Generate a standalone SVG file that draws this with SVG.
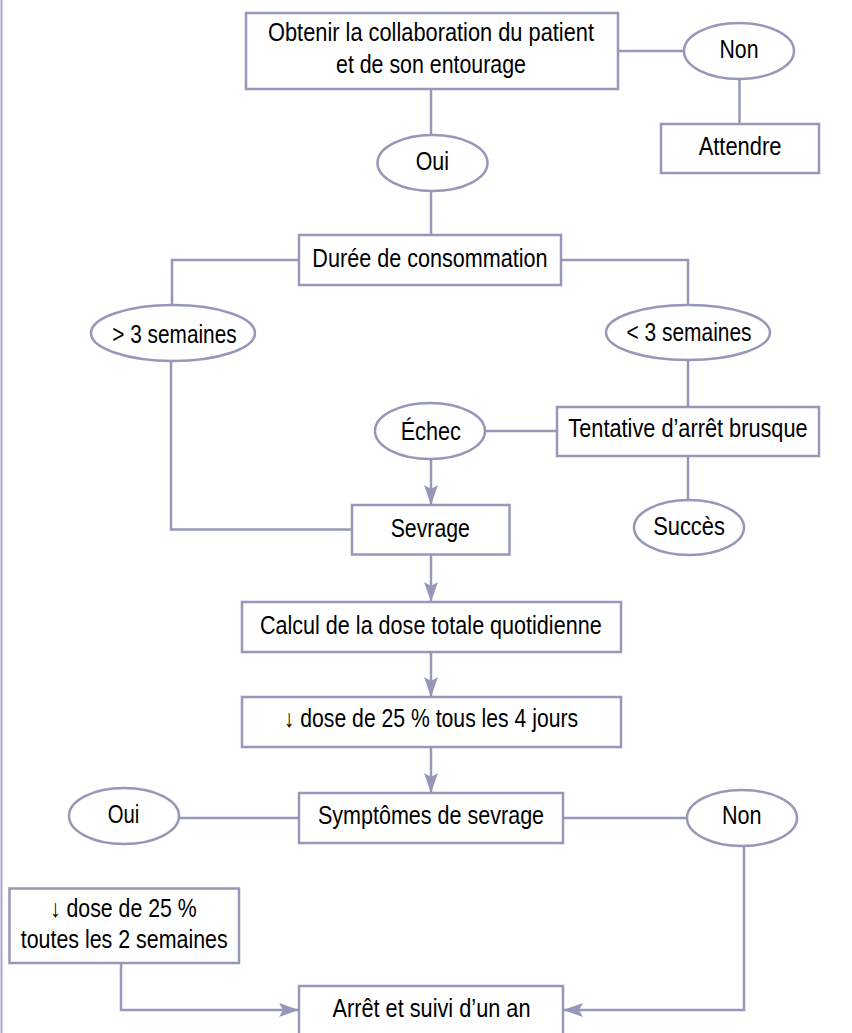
<svg xmlns="http://www.w3.org/2000/svg" width="852" height="1033" viewBox="0 0 852 1033">
<style>
.box{fill:#fff;stroke:#9598b8;stroke-width:2.5}
.ell{fill:#fff;stroke:#9598b8;stroke-width:2.5}
.con{fill:none;stroke:#9598b8;stroke-width:2.5}
.arr{marker-end:url(#ah)}
text{font-family:"Liberation Sans","DejaVu Sans",sans-serif;font-size:25px;fill:#000;text-anchor:middle}
</style>
<defs>
<marker id="ah" markerUnits="userSpaceOnUse" markerWidth="20" markerHeight="14" refX="20" refY="7" orient="auto" viewBox="0 0 20 14">
<path d="M0,0 L20,7 L0,14 L4,7 z" fill="#9598b8"/>
</marker>
</defs>
<rect width="852" height="1033" fill="#fff"/>
<line x1="1.5" y1="0" x2="1.5" y2="1033" stroke="#a3a5c9" stroke-width="2"/>
<g id="connectors">
<line class="con" x1="618" y1="51" x2="684" y2="51"/>
<line class="con" x1="739.5" y1="79" x2="739.5" y2="124"/>
<line class="con" x1="431" y1="89" x2="431" y2="135"/>
<line class="con" x1="431" y1="191" x2="431" y2="235"/>
<path class="con" d="M299,260 H172 V305"/>
<path class="con" d="M561,260 H688 V305"/>
<line class="con" x1="688" y1="360" x2="688" y2="407"/>
<line class="con" x1="557" y1="431" x2="485" y2="431"/>
<line class="con" x1="688" y1="456" x2="688" y2="500"/>
<line class="con arr" x1="431" y1="459" x2="431" y2="505"/>
<path class="con" d="M171,361 V529.5 H352"/>
<line class="con arr" x1="431" y1="554.5" x2="431" y2="602"/>
<line class="con arr" x1="431" y1="652" x2="431" y2="697"/>
<line class="con arr" x1="431" y1="747" x2="431" y2="793"/>
<line class="con" x1="299" y1="818" x2="179" y2="818"/>
<line class="con" x1="563" y1="818" x2="687" y2="818"/>
<path class="con arr" d="M121,963 V1010 H299"/>
<path class="con arr" d="M744,846 V1010 H563"/>
</g>
<g id="n-collab">
<rect class="box" x="246" y="13" width="372" height="76"/>
<text x="431" y="41" textLength="326" lengthAdjust="spacingAndGlyphs">Obtenir la collaboration du patient</text>
<text x="431" y="72.7" textLength="190" lengthAdjust="spacingAndGlyphs">et de son entourage</text>
</g>
<g id="n-non1">
<ellipse class="ell" cx="739" cy="51" rx="55" ry="28"/>
<text x="739" y="58.3" textLength="39" lengthAdjust="spacingAndGlyphs">Non</text>
</g>
<g id="n-attendre">
<rect class="box" x="661" y="124" width="158" height="49"/>
<text x="740" y="155" textLength="82.7" lengthAdjust="spacingAndGlyphs">Attendre</text>
</g>
<g id="n-oui1">
<ellipse class="ell" cx="432.5" cy="163" rx="55" ry="28"/>
<text x="432.3" y="170" textLength="33.3" lengthAdjust="spacingAndGlyphs">Oui</text>
</g>
<g id="n-duree">
<rect class="box" x="299" y="235" width="262" height="50"/>
<text x="430" y="266.7" textLength="235.3" lengthAdjust="spacingAndGlyphs">Durée de consommation</text>
</g>
<g id="n-plus3">
<ellipse class="ell" cx="173" cy="333" rx="82" ry="28"/>
<text x="174.5" y="342.7" textLength="124.3" lengthAdjust="spacingAndGlyphs">&gt; 3 semaines</text>
</g>
<g id="n-moins3">
<ellipse class="ell" cx="688" cy="332.5" rx="82" ry="27.5"/>
<text x="689" y="341" textLength="125" lengthAdjust="spacingAndGlyphs">&lt; 3 semaines</text>
</g>
<g id="n-tentative">
<rect class="box" x="557" y="407" width="262" height="49"/>
<text x="688" y="437.3" textLength="239.3" lengthAdjust="spacingAndGlyphs">Tentative d’arrêt brusque</text>
</g>
<g id="n-echec">
<ellipse class="ell" cx="430" cy="431" rx="55" ry="28"/>
<text x="430.8" y="440" textLength="60.3" lengthAdjust="spacingAndGlyphs">Échec</text>
</g>
<g id="n-sevrage">
<rect class="box" x="352" y="505" width="157.5" height="49.5"/>
<text x="430.3" y="536.7" textLength="79.3" lengthAdjust="spacingAndGlyphs">Sevrage</text>
</g>
<g id="n-succes">
<ellipse class="ell" cx="689" cy="527.5" rx="55" ry="27.5"/>
<text x="689" y="535" textLength="71.7" lengthAdjust="spacingAndGlyphs">Succès</text>
</g>
<g id="n-calcul">
<rect class="box" x="242" y="602" width="379" height="50"/>
<text x="430.8" y="634" textLength="341.7" lengthAdjust="spacingAndGlyphs">Calcul de la dose totale quotidienne</text>
</g>
<g id="n-dose4">
<rect class="box" x="242" y="697" width="379" height="50"/>
<text x="431" y="727.3" textLength="294.3" lengthAdjust="spacingAndGlyphs">↓ dose de 25 % tous les 4 jours</text>
</g>
<g id="n-oui2">
<ellipse class="ell" cx="124" cy="816" rx="55" ry="28"/>
<text x="123.5" y="823.3" textLength="31.6" lengthAdjust="spacingAndGlyphs">Oui</text>
</g>
<g id="n-symptomes">
<rect class="box" x="299" y="793" width="264" height="50"/>
<text x="431" y="824.3" textLength="226.2" lengthAdjust="spacingAndGlyphs">Symptômes de sevrage</text>
</g>
<g id="n-non2">
<ellipse class="ell" cx="742" cy="818" rx="55" ry="28"/>
<text x="741.7" y="824.3" textLength="39.6" lengthAdjust="spacingAndGlyphs">Non</text>
</g>
<g id="n-dose2">
<rect class="box" x="9.5" y="888.5" width="229.5" height="74.5"/>
<text x="123.3" y="916.7" textLength="146.7" lengthAdjust="spacingAndGlyphs">↓ dose de 25 %</text>
<text x="124.2" y="948.3" textLength="207" lengthAdjust="spacingAndGlyphs">toutes les 2 semaines</text>
</g>
<g id="n-arret">
<rect class="box" x="299" y="986" width="264" height="50"/>
<text x="431.5" y="1016.7" textLength="198" lengthAdjust="spacingAndGlyphs">Arrêt et suivi d’un an</text>
</g>
</svg>
